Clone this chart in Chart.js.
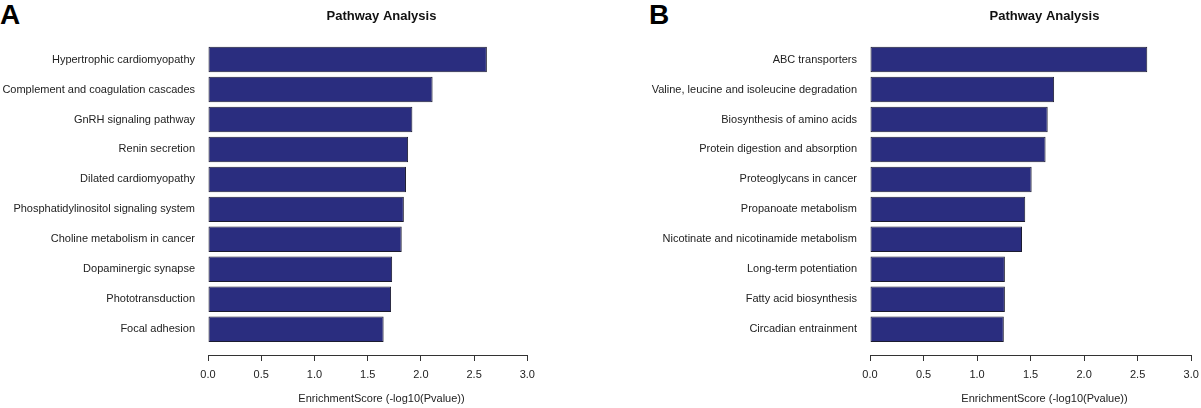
<!DOCTYPE html>
<html>
<head>
<meta charset="utf-8">
<title>Pathway Analysis</title>
<script src="https://cdn.jsdelivr.net/npm/chart.js@4.4.1/dist/chart.umd.min.js"></script>
<style>
    html, body { margin: 0; padding: 0; background: #fff; overflow: hidden; }
    body { width: 1201px; height: 408px; position: relative; }
    canvas { position: absolute; top: 0; }
    #chartA { left: 0; }
    #chartB { left: 600px; }
    .panel-letter {
        position: absolute; top: 1px;
        font: bold 28px "Liberation Sans", Arial, sans-serif;
        line-height: 28px; color: #000;
    }
</style>
</head>
<body>
<div class="panel-letter" style="left:0px;">A</div>
<div class="panel-letter" style="left:649px;">B</div>
<canvas id="chartA" width="600" height="408"></canvas>
<canvas id="chartB" width="640" height="408"></canvas>
<script>
// 두 패널의 데이터
var pathwaysA = ['Hypertrophic cardiomyopathy', 'Complement and coagulation cascades', 'GnRH signaling pathway',
    'Renin secretion', 'Dilated cardiomyopathy', 'Phosphatidylinositol signaling system',
    'Choline metabolism in cancer', 'Dopaminergic synapse', 'Phototransduction', 'Focal adhesion'];
var scoresA = [2.62, 2.11, 1.92, 1.88, 1.86, 1.84, 1.82, 1.73, 1.72, 1.65];

var pathwaysB = ['ABC transporters', 'Valine, leucine and isoleucine degradation', 'Biosynthesis of amino acids',
    'Protein digestion and absorption', 'Proteoglycans in cancer', 'Propanoate metabolism',
    'Nicotinate and nicotinamide metabolism', 'Long-term potentiation', 'Fatty acid biosynthesis',
    'Circadian entrainment'];
var scoresB = [2.59, 1.72, 1.66, 1.64, 1.51, 1.45, 1.42, 1.26, 1.26, 1.25];

var xTicks = [0.0, 0.5, 1.0, 1.5, 2.0, 2.5, 3.0];

Chart.defaults.font.family = '"Liberation Sans", Arial, sans-serif';
Chart.defaults.color = '#222';

// R 스타일 x축 선 (첫 눈금 ~ 마지막 눈금)
var axisLinePlugin = {
    id: 'axisLine',
    afterDraw: function(chart) {
        var xs = chart.scales.x;
        var ctx = chart.ctx;
        var yPos = Math.round(chart.chartArea.bottom) + 0.5;
        ctx.save();
        ctx.strokeStyle = '#333';
        ctx.lineWidth = 1;
        ctx.beginPath();
        ctx.moveTo(xs.getPixelForValue(xTicks[0]), yPos);
        ctx.lineTo(xs.getPixelForValue(xTicks[xTicks.length - 1]), yPos);
        ctx.stroke();
        ctx.restore();
    }
};

function makePanel(canvasId, labels, values, yWidth, padRight) {
    var points = [];
    for (var i = 0; i < values.length; i++)
        points.push({x: values[i], y: i});

    var ctx = document.getElementById(canvasId).getContext('2d');
    return new Chart(ctx, {
        type: 'bar',
        data: {
            datasets: [{
                data: points,
                backgroundColor: '#2a2d7f',
                borderColor: '#1c1c30',
                borderWidth: 1,
                borderSkipped: false,
                categoryPercentage: 1.0,
                barPercentage: 0.85
            }]
        },
        plugins: [axisLinePlugin],
        options: {
            indexAxis: 'y',
            responsive: false,
            animation: false,
            layout: { padding: { left: 0, right: padRight, top: 0, bottom: 0 } },
            plugins: {
                legend: { display: false },
                tooltip: { enabled: false },
                title: {
                    display: true,
                    text: 'Pathway Analysis',
                    fullSize: false,
                    color: '#111',
                    font: { size: 13, weight: 'bold' },
                    padding: { top: 9, bottom: 20 }
                }
            },
            scales: {
                x: {
                    type: 'linear',
                    min: 0,
                    max: 3.26,
                    afterBuildTicks: function(axis) {
                        axis.ticks = xTicks.map(function(v) { return {value: v}; });
                    },
                    afterFit: function(axis) { axis.height = 53; },
                    ticks: {
                        font: { size: 11 },
                        padding: 7,
                        maxRotation: 0,
                        callback: function(v) { return Number(v).toFixed(1); }
                    },
                    grid: {
                        drawOnChartArea: false,
                        drawTicks: true,
                        tickLength: 6,
                        color: '#333'
                    },
                    border: { display: false },
                    title: {
                        display: true,
                        text: 'EnrichmentScore (-log10(Pvalue))',
                        font: { size: 11 },
                        padding: { top: 0, bottom: 2 }
                    }
                },
                y: {
                    type: 'linear',
                    reverse: true,
                    offset: false,
                    min: -0.5,
                    max: 9.86,
                    afterBuildTicks: function(axis) {
                        axis.ticks = labels.map(function(_, i) { return {value: i}; });
                    },
                    afterFit: function(axis) { axis.width = yWidth; },
                    ticks: {
                        font: { size: 11 },
                        padding: 13,
                        callback: function(v) { return labels[v]; }
                    },
                    grid: { display: false, drawTicks: false, offset: false },
                    border: { display: false }
                }
            }
        }
    });
}

makePanel('chartA', pathwaysA, scoresA, 208, 45);
makePanel('chartB', pathwaysB, scoresB, 270, 21);
</script>
</body>
</html>
